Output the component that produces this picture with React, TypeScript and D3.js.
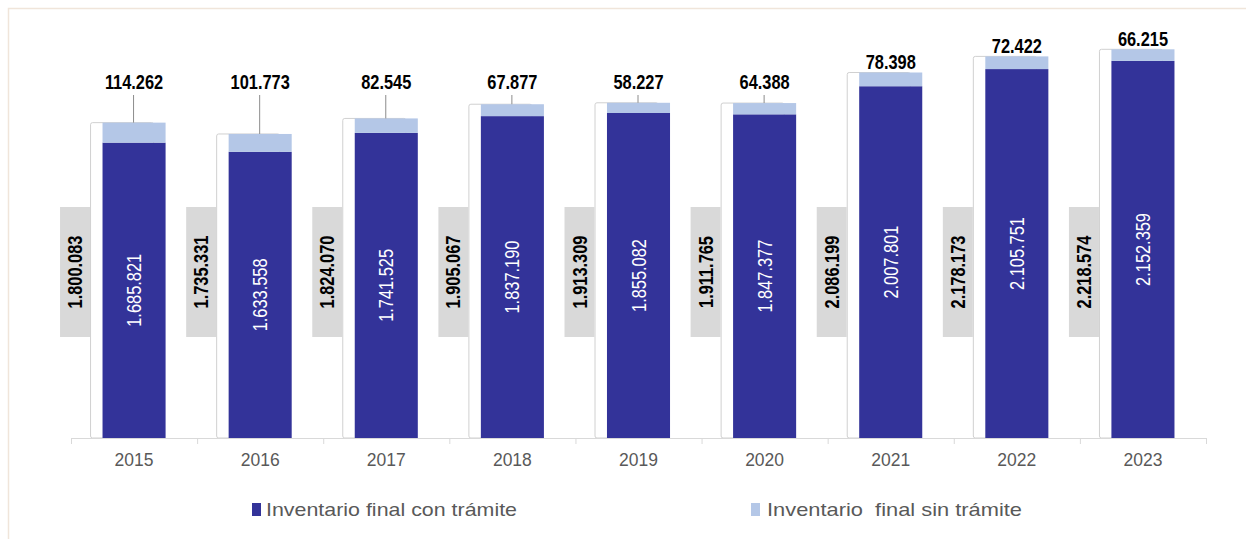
import React, { useEffect } from 'react';
import * as d3 from 'd3';

const years = ['2015', '2016', '2017', '2018', '2019', '2020', '2021', '2022', '2023'];
const conTramite = [1685821, 1633558, 1741525, 1837190, 1855082, 1847377, 2007801, 2105751, 2152359];
const sinTramite = [114262, 101773, 82545, 67877, 58227, 64388, 78398, 72422, 66215];
const totals = [1800083, 1735331, 1824070, 1905067, 1913309, 1911765, 2086199, 2178173, 2218574];
const seriesNames = ['Inventario final con trámite', 'Inventario  final sin trámite'];
const seriesColors = ['#333399', '#b4c7e7'];

const W = 1246;
const H = 539;
const SANS = "'Liberation Sans', Arial, sans-serif";
const NARROW_SCALE = 0.82;

const fmt = d3
  .formatLocale({ decimal: ',', thousands: '.', grouping: [3], currency: ['', ''] })
  .format(',d');

export default function App() {
  useEffect(() => {
    document.body.style.margin = '0';
  }, []);

  const x = d3.scaleBand<string>().domain(years).range([71, 1206]).padding(0);
  const y = d3.scaleLinear().domain([0, 2500000]).range([438, 0]);
  const bw = x.bandwidth() * 0.5;
  const cx = (yr: string) => (x(yr) as number) + x.bandwidth() / 2;

  const rows = years.map((yr, i) => ({ year: yr, con: conTramite[i], sin: sinTramite[i] }));
  const stacked = d3.stack<any>().keys(['con', 'sin'])(rows);

  return (
    <svg width={W} height={H} style={{ display: 'block', background: '#fff' }}>
      <rect x={8.5} y={8.5} width={1400} height={700} fill="none" stroke="#f0e5da" strokeWidth={1.5} />

      {years.map((yr, i) => (
        <rect
          key={'w' + yr}
          x={cx(yr) - 44 + 0.5}
          y={y(totals[i])}
          width={bw}
          height={y(0) - y(totals[i])}
          fill="#ffffff"
          stroke="#d0d0d0"
          strokeWidth={1}
          rx={2}
        />
      ))}

      {stacked.map((s, si) => (
        <g key={'s' + si} fill={seriesColors[si]}>
          {s.map((d, i) => (
            <rect key={i} x={cx(years[i]) - bw / 2} y={y(d[1])} width={bw} height={y(d[0]) - y(d[1])} />
          ))}
        </g>
      ))}

      <line x1={71} x2={1206} y1={438.5} y2={438.5} stroke="#d9d9d9" strokeWidth={1} />
      {[...years.map((yr) => x(yr) as number), 1206].map((tx, i) => (
        <line key={'t' + i} x1={tx + 0.5} x2={tx + 0.5} y1={438} y2={444} stroke="#d9d9d9" />
      ))}
      {years.map((yr) => (
        <text key={'xl' + yr} x={cx(yr)} y={466} textAnchor="middle" fontFamily={SANS} fontSize={17.5} fill="#595959">
          {yr}
        </text>
      ))}

      {years.map((yr, i) => {
        const right = cx(yr) - 44;
        const cy = 272;
        return (
          <g key={'gl' + yr}>
            <rect x={right - 30} y={cy - 65} width={30} height={130} fill="#d9d9d9" />
            <g transform={`translate(${right - 8},${cy}) rotate(-90) scale(${NARROW_SCALE},1)`}>
              <text textAnchor="middle" fontFamily={SANS} fontWeight="bold" fontSize={20} fill="#000">
                {fmt(totals[i])}
              </text>
            </g>
          </g>
        );
      })}

      {stacked[0].map((d, i) => {
        const c = cx(years[i]);
        const my = (y(d[0]) + y(d[1])) / 2;
        return (
          <g key={'in' + i} transform={`translate(${c + 7},${my}) rotate(-90) scale(${NARROW_SCALE},1)`}>
            <text textAnchor="middle" fontFamily={SANS} fontSize={20} fill="#ffffff">
              {fmt(d.data.con)}
            </text>
          </g>
        );
      })}

      {stacked[1].map((d, i) => {
        const c = cx(years[i]);
        const top = y(d[1]);
        const base = Math.min(89, top - 3);
        const showLine = top - (base + 6) > 4;
        return (
          <g key={'top' + i}>
            {showLine && (
              <line x1={c - 0.5} x2={c - 0.5} y1={base + 6} y2={top} stroke="#8c8c8c" strokeWidth={1} />
            )}
            <g transform={`translate(${c},${base}) scale(${NARROW_SCALE},1)`}>
              <text textAnchor="middle" fontFamily={SANS} fontWeight="bold" fontSize={20} fill="#000">
                {fmt(d.data.sin)}
              </text>
            </g>
          </g>
        );
      })}

      <rect x={252} y={503} width={9} height={13} fill={seriesColors[0]} />
      <text x={266} y={516} fontFamily={SANS} fontSize={19} fill="#595959" textLength={251}
        lengthAdjust="spacingAndGlyphs" style={{ whiteSpace: 'pre' }}>
        {seriesNames[0]}
      </text>
      <rect x={751} y={503} width={9} height={13} fill={seriesColors[1]} />
      <text x={767} y={516} fontFamily={SANS} fontSize={19} fill="#595959" textLength={255}
        lengthAdjust="spacingAndGlyphs" style={{ whiteSpace: 'pre' }}>
        {seriesNames[1]}
      </text>
    </svg>
  );
}
